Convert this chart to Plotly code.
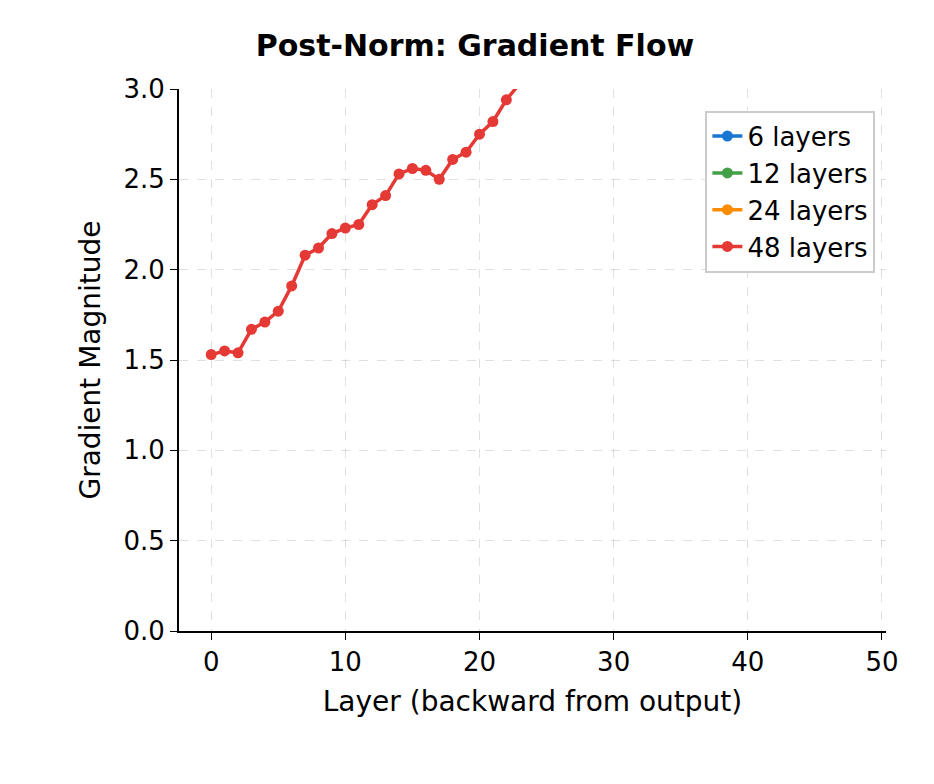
import plotly.graph_objects as go

layers48 = list(range(0, 25))
grad48 = [1.53, 1.55, 1.54, 1.67, 1.71, 1.77, 1.91, 2.08, 2.12, 2.20, 2.23, 2.25, 2.36, 2.41,
          2.53, 2.56, 2.55, 2.50, 2.61, 2.65, 2.75, 2.82, 2.94, 3.03, 3.10]
layers6 = list(range(0, 6))
grad6 = [3.6, 3.7, 3.8, 3.9, 4.0, 4.1]
layers12 = list(range(0, 12))
grad12 = [3.5, 3.6, 3.7, 3.8, 3.9, 4.0, 4.1, 4.2, 4.3, 4.4, 4.5, 4.6]
layers24 = list(range(0, 24))
grad24 = [3.30, 3.35, 3.40, 3.45, 3.50, 3.55, 3.60, 3.65, 3.70, 3.75, 3.80, 3.85,
          3.90, 3.95, 4.00, 4.05, 4.10, 4.15, 4.20, 4.25, 4.30, 4.35, 4.40, 4.45]

series = [("6 layers", layers6, grad6, "#1976d2"),
          ("12 layers", layers12, grad12, "#43a047"),
          ("24 layers", layers24, grad24, "#fb8c00"),
          ("48 layers", layers48, grad48, "#e53935")]

fig = go.Figure()
for name, x, y, c in series:
    fig.add_trace(go.Scatter(x=x, y=y, name=name, mode="lines+markers",
                             line=dict(color=c, width=3.5), marker=dict(size=11, color=c)))

ax = dict(showline=True, linecolor="black", linewidth=2, ticks="outside", ticklen=7,
          tickcolor="black", showgrid=True, gridcolor="rgba(0,0,0,0.12)", griddash="dash",
          zeroline=False, tickfont=dict(size=26, color="black"), mirror=False)
fig.update_layout(
    width=934, height=784, plot_bgcolor="white", paper_bgcolor="white",
    font=dict(family="DejaVu Sans", color="black"),
    margin=dict(l=171, r=56, t=81, b=161),
    title=dict(text="<b>Post-Norm: Gradient Flow</b>", x=0.5, xanchor="center", y=0.965,
               font=dict(size=30)),
    xaxis=dict(ax, range=[-2.4, 50.3], tickvals=[0, 10, 20, 30, 40, 50],
               title=dict(text="Layer (backward from output)", font=dict(size=28))),
    yaxis=dict(ax, range=[0, 3.0], tickvals=[0, 0.5, 1, 1.5, 2, 2.5, 3],
               ticktext=["0.0", "0.5", "1.0", "1.5", "2.0", "2.5", "3.0"],
               title=dict(text="Gradient Magnitude", font=dict(size=28))),
    legend=dict(x=0.985, y=0.96, xanchor="right", yanchor="top", bordercolor="#cccccc",
                borderwidth=2, bgcolor="white", font=dict(size=26)),
)
fig.write_html("out.html")
